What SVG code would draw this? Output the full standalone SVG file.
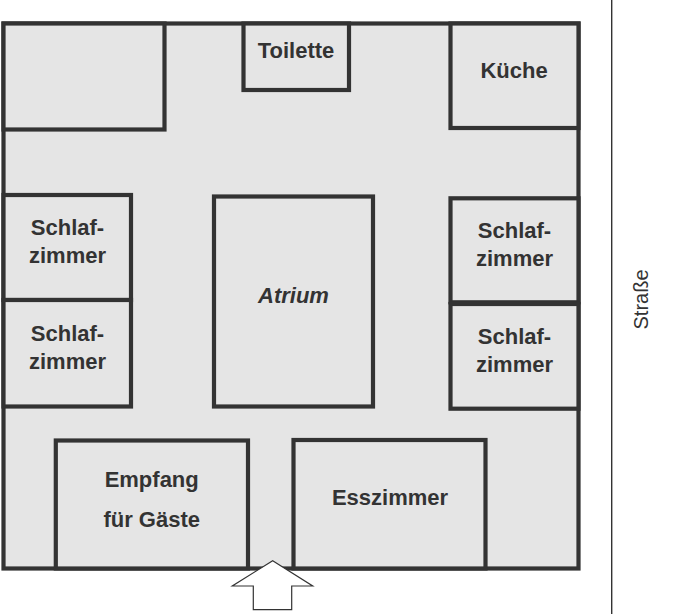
<svg xmlns="http://www.w3.org/2000/svg" width="676" height="614" viewBox="0 0 676 614">
<style>
.wall{fill:#e5e5e5;stroke:#333;stroke-width:4.2}
.lbl{font-family:"Liberation Sans",Arial,sans-serif;font-weight:bold;font-size:22px;fill:#333;text-anchor:middle}
.it{font-style:italic}
.street{font-family:"Liberation Sans",Arial,sans-serif;font-size:20px;fill:#333;text-anchor:middle}
</style>
<rect width="676" height="614" fill="#fff"/>
<g id="house"><rect class="wall" x="3.5" y="23.5" width="575" height="545"/></g>
<g id="room-topleft"><rect class="wall" x="3.5" y="23.5" width="161" height="106"/></g>
<g id="toilette"><rect class="wall" x="243.5" y="23.5" width="105.5" height="66.5"/><text class="lbl" x="296" y="58">Toilette</text></g>
<g id="kueche"><rect class="wall" x="450.5" y="23.5" width="128" height="104.5"/><text class="lbl" x="514" y="77.5">Küche</text></g>
<g id="schlaf-l1"><rect class="wall" x="3.5" y="195" width="127.5" height="105"/><text class="lbl" x="67.5" y="235">Schlaf-</text><text class="lbl" x="67.5" y="262.5">zimmer</text></g>
<g id="schlaf-l2"><rect class="wall" x="3.5" y="300" width="127.5" height="106.5"/><text class="lbl" x="67.5" y="341">Schlaf-</text><text class="lbl" x="67.5" y="369">zimmer</text></g>
<g id="atrium"><rect class="wall" x="214" y="196.5" width="159" height="210"/><text class="lbl it" x="293.5" y="302.5">Atrium</text></g>
<g id="schlaf-r1"><rect class="wall" x="450.5" y="198.3" width="128" height="104"/><text class="lbl" x="514.5" y="238">Schlaf-</text><text class="lbl" x="514.5" y="266">zimmer</text></g>
<g id="schlaf-r2"><rect class="wall" x="450.5" y="304" width="128" height="104.7"/><text class="lbl" x="514.5" y="343.5">Schlaf-</text><text class="lbl" x="514.5" y="371.5">zimmer</text></g>
<g id="empfang"><rect class="wall" x="55.8" y="440.5" width="192.2" height="128"/><text class="lbl" x="151.7" y="486.5">Empfang</text><text class="lbl" x="151.7" y="526.5">für Gäste</text></g>
<g id="esszimmer"><rect class="wall" x="293.5" y="440" width="192" height="128.5"/><text class="lbl" x="390" y="505">Esszimmer</text></g>
<g id="entrance"><polygon points="272.7,560.7 312.7,586 291.7,586 291.7,609.7 253.3,609.7 253.3,586 232.3,586" fill="#fff" stroke="#333" stroke-width="1.2" stroke-linejoin="miter"/></g>
<g id="street"><line x1="611.7" y1="0" x2="611.7" y2="614" stroke="#333" stroke-width="1.4"/><text class="street" transform="translate(648.3,299.5) rotate(-90)" x="0" y="0">Straße</text></g>
</svg>
